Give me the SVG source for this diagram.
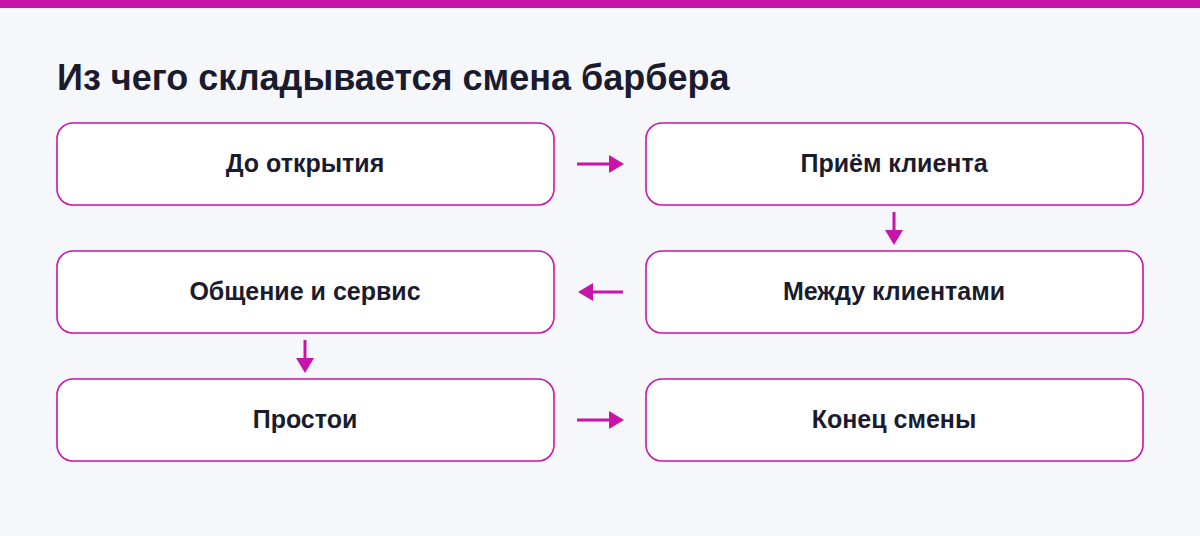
<svg xmlns="http://www.w3.org/2000/svg" width="1200" height="536" viewBox="0 0 1200 536">
<style>
.box{fill:#fff;stroke:#C814A8;stroke-width:1.6}
.lbl{font-family:"Liberation Sans",Arial,sans-serif;font-weight:bold;font-size:25px;fill:#1B1B2F;text-anchor:middle}
.c line{stroke:#C814A8;stroke-width:3}
</style>
<defs><marker id="ah" markerWidth="5" markerHeight="6" refX="0" refY="3" orient="auto" markerUnits="strokeWidth"><path d="M0,0L5,3L0,6Z" fill="#C814A8"/></marker></defs>
<rect width="1200" height="536" fill="#F6F7FB"/>
<rect width="1200" height="8" fill="#C814A8"/>
<text x="57" y="90" font-family="Liberation Sans,Arial,sans-serif" font-weight="bold" font-size="36" fill="#1B1B2F">Из чего складывается смена барбера</text>
<g id="n1"><rect class="box" x="57" y="123" width="497" height="82" rx="16"/><text class="lbl" x="305" y="172">До открытия</text></g>
<g id="n2"><rect class="box" x="646" y="123" width="497" height="82" rx="16"/><text class="lbl" x="894" y="172">Приём клиента</text></g>
<g id="n3"><rect class="box" x="646" y="251" width="497" height="82" rx="16"/><text class="lbl" x="894" y="300">Между клиентами</text></g>
<g id="n4"><rect class="box" x="57" y="251" width="497" height="82" rx="16"/><text class="lbl" x="305" y="300">Общение и сервис</text></g>
<g id="n5"><rect class="box" x="57" y="379" width="497" height="82" rx="16"/><text class="lbl" x="305" y="428">Простои</text></g>
<g id="n6"><rect class="box" x="646" y="379" width="497" height="82" rx="16"/><text class="lbl" x="894" y="428">Конец смены</text></g>
<g class="c">
<line x1="577" y1="164" x2="609" y2="164" marker-end="url(#ah)"/>
<line x1="894" y1="212" x2="894" y2="230" marker-end="url(#ah)"/>
<line x1="623" y1="292" x2="593" y2="292" marker-end="url(#ah)"/>
<line x1="305" y1="340" x2="305" y2="358" marker-end="url(#ah)"/>
<line x1="577" y1="420" x2="609" y2="420" marker-end="url(#ah)"/>
</g>
</svg>
